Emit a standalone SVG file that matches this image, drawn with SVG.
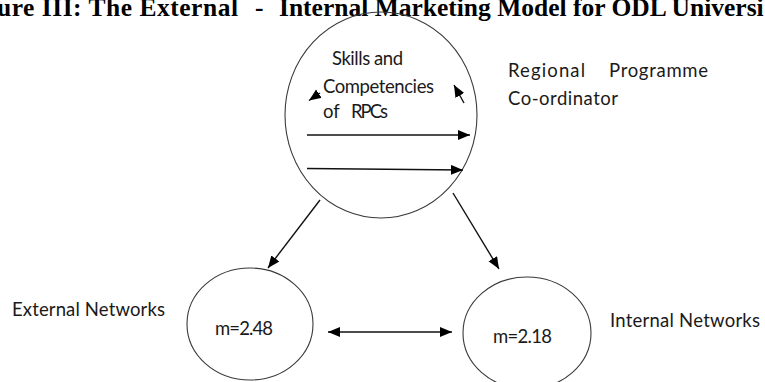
<svg xmlns="http://www.w3.org/2000/svg" width="765" height="382" viewBox="0 0 765 382">
<style>
.node{fill:none;stroke:#3a3a3a;stroke-width:1.1}
.t{font-family:Lato,"Liberation Sans",sans-serif;font-size:18.5px;fill:#1a1a1a}
.title{font-family:"Liberation Serif",serif;font-weight:bold;font-size:25.5px;fill:#000}
.c{stroke:#111;stroke-width:1.4;fill:none;marker-end:url(#ah)}
</style>
<defs>
<marker id="ah" markerUnits="userSpaceOnUse" markerWidth="13" markerHeight="11" refX="12" refY="5" orient="auto-start-reverse">
<path d="M0,0 L12,5 L0,10 z" fill="#000"/>
</marker>
</defs>
<rect width="765" height="382" fill="#fff"/>
<text class="title" y="16"><tspan x="-3" textLength="241">ure III: The External</tspan><tspan x="255">-</tspan><tspan x="279">Internal Marketing Model for ODL Universi</tspan></text>
<g id="rpc">
<ellipse class="node" cx="381" cy="115" rx="96" ry="103"/>
<text class="t" x="332" y="65" textLength="71">Skills and</text>
<text class="t" x="323" y="93" textLength="111">Competencies</text>
<text class="t" y="118"><tspan x="323">of</tspan><tspan x="351" textLength="37">RPCs</tspan></text>
</g>
<g id="rpc-label">
<text class="t" y="77"><tspan x="508" textLength="77">Regional</tspan><tspan x="609" textLength="99">Programme</tspan></text>
<text class="t" x="508" y="105" textLength="110">Co-ordinator</text>
</g>
<g id="external">
<ellipse class="node" cx="250" cy="324" rx="63" ry="56"/>
<text class="t" x="12" y="316" textLength="153">External Networks</text>
<text class="t" x="215" y="335" textLength="58">m=2.48</text>
</g>
<g id="internal">
<ellipse class="node" cx="527" cy="333" rx="64" ry="56"/>
<text class="t" x="610" y="327" textLength="150">Internal Networks</text>
<text class="t" x="493" y="343" textLength="59">m=2.18</text>
</g>
<g id="connectors">
<line class="c" x1="320" y1="93" x2="309" y2="100.5"/>
<line class="c" x1="464" y1="103" x2="454" y2="85"/>
<line class="c" x1="307" y1="135" x2="470" y2="135"/>
<line class="c" x1="307" y1="168.5" x2="463" y2="170"/>
<line class="c" x1="320" y1="200" x2="268" y2="268"/>
<line class="c" x1="453" y1="193" x2="499" y2="269"/>
<line class="c" x1="328" y1="332" x2="452" y2="332" style="marker-start:url(#ah)"/>
</g>
</svg>
